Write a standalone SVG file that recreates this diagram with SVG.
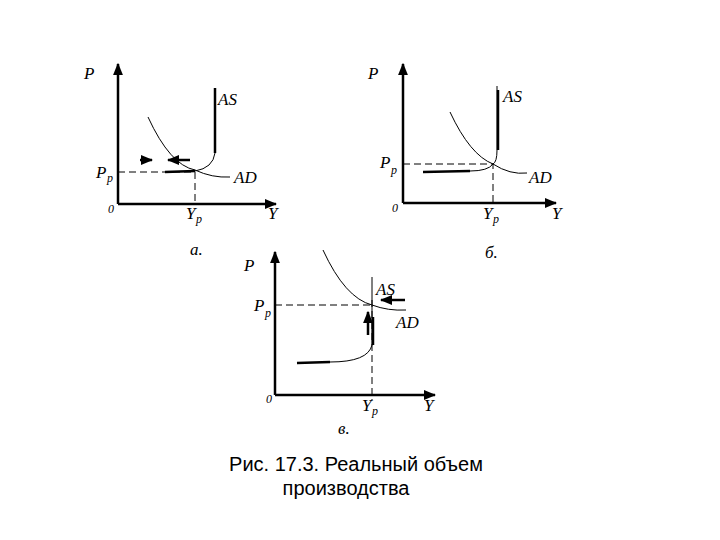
<svg xmlns="http://www.w3.org/2000/svg" width="720" height="540" viewBox="0 0 720 540">
<defs>
<marker id="ah" viewBox="0 0 10 10" refX="9" refY="5" markerWidth="5" markerHeight="5" orient="auto"><path d="M0,1 L10,5 L0,9 Z" fill="#000"/></marker>
</defs>
<style>
.ax{stroke:#000;stroke-width:2.5;fill:none}
.th{stroke:#000;stroke-width:1;fill:none}
.tk{stroke:#000;stroke-width:2.5;fill:none}
.ds{stroke:#000;stroke-width:1;stroke-dasharray:7,4;fill:none}
text{font-family:"Liberation Serif",serif;font-style:italic;font-size:17px;fill:#000}
.cap{font-family:"Liberation Sans",sans-serif;font-style:normal;font-size:20px}
.sm{font-size:12px}
</style>
<rect width="720" height="540" fill="#fff"/>
<g id="panel-a">
<path class="ax" d="M118,204 H276" marker-end="url(#ah)"/>
<path class="ax" d="M118,204 V64" marker-end="url(#ah)"/>
<path class="ds" d="M118,172 H195 V204"/>
<path class="tk" d="M215,88 V153"/>
<path class="th" d="M215,153 Q213,168 195,171"/>
<path class="tk" d="M165,172 L195,171"/>
<path class="th" d="M148,117 Q170,165 195,170 Q212,178 230,177"/>
<path class="tk" d="M140,160 H152" marker-end="url(#ah)"/>
<path class="tk" d="M190,160 H168" marker-end="url(#ah)"/>
<text x="84" y="79">P</text><text x="218" y="105">AS</text>
<text x="96" y="178">P</text><text class="sm" x="107" y="182">p</text>
<text x="234" y="183">AD</text><text class="sm" x="108" y="213">0</text>
<text x="186" y="219">Y</text><text class="sm" x="196" y="223">p</text>
<text x="268" y="219">Y</text><text x="190" y="255">a.</text>
</g>
<g id="panel-b">
<path class="ax" d="M403,203 V64" marker-end="url(#ah)"/>
<path class="ax" d="M403,203 H556" marker-end="url(#ah)"/>
<path class="ds" d="M403,164 H493 V203"/>
<path class="th" d="M497,86 V150 Q497,162 493,164"/>
<path class="tk" d="M498,90 V150"/>
<path class="tk" d="M423,172 L470,171"/>
<path class="th" d="M470,171 Q488,171 493,164"/>
<path class="th" d="M450,112 Q470,155 493,164 Q510,175 527,173"/>
<text x="368" y="79">P</text><text x="503" y="102">AS</text>
<text x="380" y="168">P</text><text class="sm" x="391" y="174">p</text>
<text x="529" y="183">AD</text><text class="sm" x="392" y="212">0</text>
<text x="483" y="219">Y</text><text class="sm" x="493" y="223">p</text>
<text x="552" y="219">Y</text><text x="485" y="258">б.</text>
</g>
<g id="panel-c">
<path class="ax" d="M275,395 V252" marker-end="url(#ah)"/>
<path class="ax" d="M275,395 H435" marker-end="url(#ah)"/>
<path class="ds" d="M275,305 H372 M372,300 V400"/>
<path class="th" d="M372,277 V345"/>
<path class="tk" d="M297,363 L330,362"/>
<path class="th" d="M330,362 Q368,362 372,345"/>
<path class="tk" d="M373,345 V317"/>
<path class="th" d="M323,250 Q345,298 372,305 Q388,311 406,310"/>
<path class="tk" d="M368,335 V312" marker-end="url(#ah)"/>
<path class="tk" d="M405,300 H381" marker-end="url(#ah)"/>
<text x="244" y="271">P</text><text x="376" y="295">AS</text>
<text x="254" y="311">P</text><text class="sm" x="265" y="317">p</text>
<text x="396" y="328">AD</text><text class="sm" x="266" y="403">0</text>
<text x="362" y="411">Y</text><text class="sm" x="372" y="415">p</text>
<text x="424" y="411">Y</text><text x="338" y="434">в.</text>
</g>
<g id="caption">
<text class="cap" x="356" y="471" text-anchor="middle">Рис. 17.3. Реальный объем</text>
<text class="cap" x="346" y="495" text-anchor="middle">производства</text>
</g>
</svg>
